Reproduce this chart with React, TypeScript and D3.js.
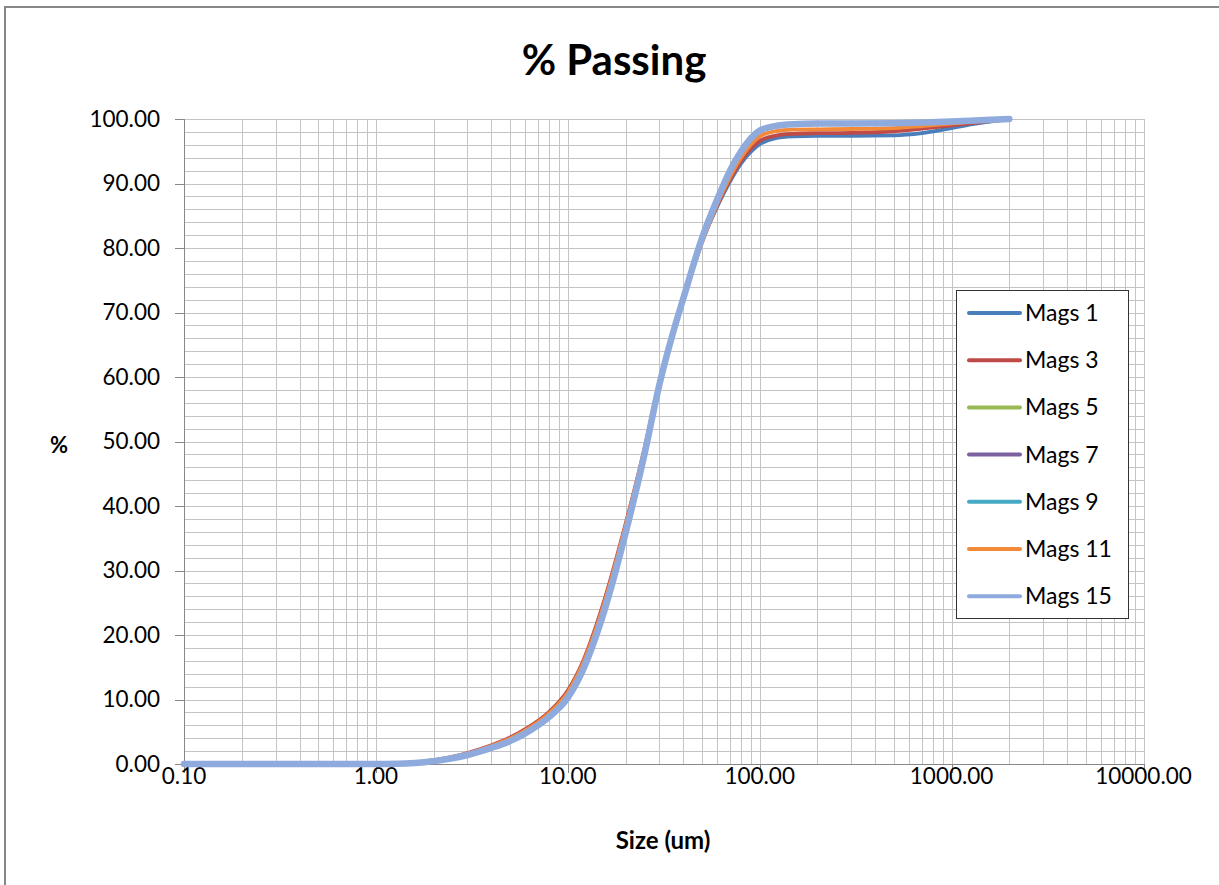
import React from "react";
import * as d3 from "d3";

// Particle size (um) at which each cumulative % passing value was measured
const sizes = [0.1, 0.2, 0.5, 1, 1.3, 1.6, 2, 2.5, 3, 4, 5, 6, 8, 10, 12, 15, 20, 25, 30, 35, 40, 50, 60, 70, 80, 100, 120, 150, 200, 300, 500, 700, 1000, 1500, 2000];

const mags1 = [0, 0, 0, 0, 0.05, 0.2, 0.55, 1.0, 1.55, 2.7, 3.85, 5.1, 7.7, 10.9, 15.3, 23.3, 36.7, 48.4, 59.2, 66.6, 72.3, 81.0, 86.4, 90.3, 93.1, 96.1, 97.0, 97.3, 97.4, 97.4, 97.45, 97.8, 98.6, 99.5, 100];
const mags3 = [0, 0, 0, 0, 0.06, 0.22, 0.6, 1.1, 1.7, 2.9, 4.1, 5.4, 8.1, 11.4, 15.9, 24.0, 37.2, 48.7, 59.2, 66.5, 72.1, 80.9, 86.6, 90.6, 93.5, 96.6, 97.4, 97.7, 97.8, 97.85, 98.1, 98.5, 99.0, 99.6, 100];
const mags5 = [0, 0, 0, 0, 0.03, 0.16, 0.47, 0.92, 1.45, 2.55, 3.6, 4.8, 7.4, 10.4, 14.7, 22.5, 35.9, 47.9, 58.9, 66.4, 72.2, 81.5, 87.4, 91.9, 94.9, 98.1, 98.8, 99.1, 99.2, 99.25, 99.3, 99.4, 99.6, 99.85, 100];
const mags7 = [0, 0, 0, 0, 0.03, 0.15, 0.46, 0.91, 1.43, 2.53, 3.57, 4.77, 7.35, 10.35, 14.65, 22.45, 35.85, 47.85, 58.85, 66.4, 72.2, 81.5, 87.5, 92.0, 95.0, 98.2, 98.9, 99.15, 99.25, 99.3, 99.35, 99.45, 99.6, 99.85, 100];
const mags9 = [0, 0, 0, 0, 0.02, 0.15, 0.45, 0.9, 1.42, 2.52, 3.56, 4.76, 7.32, 10.32, 14.62, 22.42, 35.8, 47.8, 58.8, 66.4, 72.2, 81.5, 87.5, 92.0, 95.0, 98.2, 98.9, 99.15, 99.25, 99.3, 99.35, 99.45, 99.6, 99.85, 100];
const mags11 = [0, 0, 0, 0, 0.05, 0.2, 0.55, 1.05, 1.6, 2.8, 3.95, 5.2, 7.9, 11.1, 15.6, 23.6, 36.9, 48.5, 59.0, 66.4, 72.0, 80.8, 86.8, 91.0, 94.0, 97.3, 98.1, 98.35, 98.4, 98.45, 98.6, 98.9, 99.3, 99.75, 100];
const mags15 = [0, 0, 0, 0, 0.02, 0.15, 0.45, 0.9, 1.4, 2.5, 3.55, 4.75, 7.3, 10.3, 14.6, 22.4, 35.8, 47.8, 58.8, 66.4, 72.2, 81.5, 87.5, 92.0, 95.0, 98.2, 98.9, 99.2, 99.3, 99.3, 99.35, 99.45, 99.6, 99.85, 100];

const seriesNames = ["Mags 1", "Mags 3", "Mags 5", "Mags 7", "Mags 9", "Mags 11", "Mags 15"];
const seriesValues = [mags1, mags3, mags5, mags7, mags9, mags11, mags15];
const seriesColors = ["#4A7EBB", "#BE4B48", "#98B954", "#7D60A0", "#46AAC5", "#F38A3A", "#8FAADC"];

const xTickValues = [0.1, 1, 10, 100, 1000, 10000];
const yTickValues = [0, 10, 20, 30, 40, 50, 60, 70, 80, 90, 100];

const W = 1219;
const H = 885;
const plot = { left: 184, right: 1143.5, top: 119, bottom: 764 };
const FONT = "Lato, 'Open Sans', sans-serif";

export default function App() {
  const x = d3.scaleLog().domain([0.1, 10000]).range([plot.left, plot.right]);
  const y = d3.scaleLinear().domain([0, 100]).range([plot.bottom, plot.top]);

  // log-decade minor grid: 2..9 within each decade
  const xMinor: number[] = [];
  for (let e = -1; e < 4; e++) {
    for (let m = 2; m <= 9; m++) xMinor.push(m * Math.pow(10, e));
  }
  const yMinor = d3.range(0, 101, 2);

  const line = d3
    .line<number>()
    .x((_, i) => x(sizes[i]))
    .y((v) => y(v))
    .curve(d3.curveMonotoneX);

  const legend = { x: 956, y: 290, w: 172, h: 328, step: 47.2 };

  return (
    <svg
      width={W}
      height={H}
      style={{ position: "absolute", left: 0, top: 0, background: "#fff" }}
      fontFamily={FONT}
    >
      <rect x={5} y={7} width={W + 20} height={H + 20} fill="#fff" stroke="#878787" strokeWidth={2} />

      <text x={614} y={75} textAnchor="middle" fontSize={42} fontWeight={700} fill="#000">
        % Passing
      </text>

      {/* grid */}
      <g stroke="#c4c4c4" strokeWidth={1} shapeRendering="crispEdges">
        {yMinor.map((v) => (
          <line key={"gy" + v} x1={plot.left} x2={plot.right} y1={Math.round(y(v)) + 0.5} y2={Math.round(y(v)) + 0.5} />
        ))}
        {[...xMinor, ...xTickValues].map((v) => (
          <line key={"gx" + v} x1={Math.round(x(v)) + 0.5} x2={Math.round(x(v)) + 0.5} y1={plot.top} y2={plot.bottom} />
        ))}
      </g>

      {/* axes */}
      <g stroke="#878787" strokeWidth={1} shapeRendering="crispEdges">
        <line x1={plot.left + 0.5} x2={plot.left + 0.5} y1={plot.top} y2={plot.bottom + 9} />
        <line x1={plot.left - 9} x2={plot.right} y1={Math.round(y(0)) + 0.5} y2={Math.round(y(0)) + 0.5} />
        {yTickValues.map((v) => (
          <line key={"ty" + v} x1={plot.left - 9} x2={plot.left} y1={Math.round(y(v)) + 0.5} y2={Math.round(y(v)) + 0.5} />
        ))}
        {xTickValues.map((v) => (
          <line key={"tx" + v} x1={Math.round(x(v)) + 0.5} x2={Math.round(x(v)) + 0.5} y1={plot.bottom} y2={plot.bottom + 9} />
        ))}
      </g>

      {/* tick labels */}
      <g fontSize={22.5} fill="#000">
        {yTickValues.map((v) => (
          <text key={"ly" + v} x={160} y={y(v)} dy="0.35em" textAnchor="end">
            {d3.format(".2f")(v)}
          </text>
        ))}
        {xTickValues.map((v) => (
          <text key={"lx" + v} x={x(v)} y={784} textAnchor="middle">
            {d3.format(".2f")(v)}
          </text>
        ))}
      </g>

      <text x={663} y={849} textAnchor="middle" fontSize={24} fontWeight={700}>
        Size (um)
      </text>
      <text x={59} y={453} textAnchor="middle" fontSize={22} fontWeight={700}>
        %
      </text>

      {/* series */}
      <g fill="none" strokeLinejoin="round" strokeLinecap="round">
        {seriesValues.map((vals, i) => (
          <path
            key={seriesNames[i]}
            d={line(vals) || ""}
            stroke={seriesColors[i]}
            strokeWidth={i === seriesValues.length - 1 ? 6.5 : 3.8}
          />
        ))}
      </g>

      {/* legend */}
      <g>
        <rect x={legend.x + 0.5} y={legend.y + 0.5} width={legend.w} height={legend.h} fill="#fff" stroke="#333" strokeWidth={1} />
        {seriesNames.map((name, i) => {
          const cy = legend.y + 23 + i * legend.step;
          return (
            <g key={"lg" + name}>
              <line x1={969} x2={1020} y1={cy} y2={cy} stroke={seriesColors[i]} strokeWidth={4} strokeLinecap="round" />
              <text x={1025} y={cy} dy="0.35em" fontSize={23} fill="#000">
                {name}
              </text>
            </g>
          );
        })}
      </g>
    </svg>
  );
}
